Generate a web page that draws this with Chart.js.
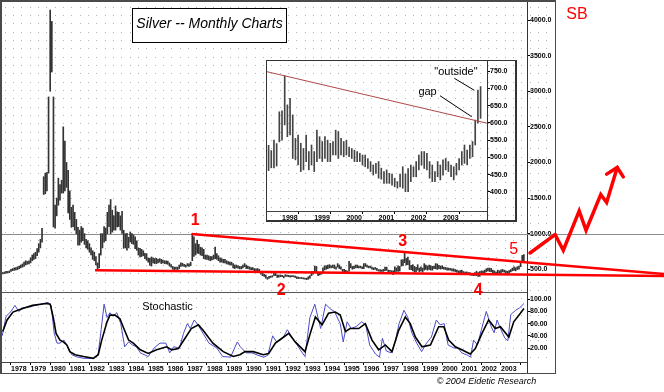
<!DOCTYPE html>
<html>
<head>
<meta charset="utf-8">
<script src="https://cdn.jsdelivr.net/npm/chart.js@4.4.1/dist/chart.umd.min.js"></script>
<style>
  body { margin: 0; background: #fff; }
  #wrap { position: relative; width: 664px; height: 392px; overflow: hidden; }
  canvas { position: absolute; }
  #stoch { left: 0; top: 292px; }
  #price { left: 0; top: 0; }
  #inset { left: 266px; top: 60px; }
</style>
</head>
<body>
<div id="wrap">
  <canvas id="stoch" width="556" height="100"></canvas>
  <canvas id="price" width="664" height="300"></canvas>
  <canvas id="inset" width="252" height="163"></canvas>
</div>
<script>
// Silver, monthly high/low in cents, Jul 1977 .. Mar 2004
const firstMonth = 1977.5;
const lows = [
  438, 435, 440, 445, 448, 452,                                  // 1977 Jul-Dec
  470, 480, 485, 490, 495, 510, 520, 530, 540, 560, 570, 575,    // 1978
  590, 620, 640, 650, 690, 740, 800, 880, 1550, 1560, 1600, 1850, // 1979
  3000, 3270, 1095, 1076, 1250, 1400, 1470, 1570, 1570, 1600, 1650, 1290, // 1980
  1200, 1090, 1100, 1050, 1000, 840, 840, 880, 900, 850, 800, 780, // 1981
  740, 700, 640, 620, 560, 500, 520, 700, 800, 880, 900, 1000,   // 1982
  1100, 1000, 1024, 1050, 1050, 1095, 1100, 1050, 1002, 795, 800, 767, // 1983
  800, 884, 860, 850, 790, 767, 700, 673, 680, 690, 650, 626,    // 1984
  600, 556, 545, 590, 580, 580, 590, 600, 580, 590, 580, 575,    // 1985
  570, 545, 530, 500, 495, 500, 495, 510, 540, 545, 540, 530,    // 1986
  545, 540, 550, 620, 680, 700, 725, 720, 700, 690, 650, 640,    // 1987
  640, 630, 620, 630, 640, 650, 640, 620, 600, 600, 590, 590,    // 1988
  575, 570, 560, 560, 520, 510, 520, 515, 505, 505, 520, 535,    // 1989
  510, 510, 500, 495, 495, 480, 475, 480, 470, 430, 410, 400,    // 1990
  375, 360, 370, 385, 390, 410, 410, 385, 390, 395, 395, 380,    // 1991
  400, 400, 395, 390, 395, 395, 385, 370, 370, 370, 370, 365,    // 1992
  360, 355, 360, 375, 410, 430, 460, 450, 410, 420, 430, 450,    // 1993
  490, 500, 510, 520, 520, 525, 510, 500, 530, 510, 500, 470,    // 1994
  460, 455, 445, 475, 520, 500, 510, 520, 520, 520, 520, 510,    // 1995
  510, 540, 530, 520, 520, 500, 495, 500, 485, 475, 470, 470,    // 1996
  470, 480, 485, 465, 470, 465, 425, 462, 470, 470, 475, 545,    // 1997
  550, 594, 560, 565, 497, 493, 478, 459, 464, 488, 464, 478,    // 1998
  459, 488, 497, 488, 497, 488, 488, 507, 507, 497, 507, 502,    // 1999
  507, 502, 497, 488, 488, 488, 478, 473, 468, 459, 449, 454,    // 2000
  440, 437, 425, 425, 425, 420, 415, 411, 415, 411, 401, 401,    // 2001
  430, 444, 444, 464, 478, 468, 464, 440, 430, 430, 444, 435,    // 2002
  449, 464, 459, 444, 435, 449, 464, 478, 483, 478, 497, 502,    // 2003
  536, 599, 613                                                  // 2004 Jan-Mar
];
const highs = [
  458, 455, 462, 470, 470, 478,
  500, 510, 520, 525, 535, 545, 560, 575, 600, 620, 610, 620,
  660, 700, 720, 740, 790, 860, 920, 1076, 1800, 1850, 1860, 2920,
  4140, 3980, 2920, 1400, 1500, 1780, 1690, 1750, 2500, 2300, 2000, 1890,
  1600, 1370, 1400, 1300, 1200, 1090, 1050, 1100, 1080, 1000, 920, 900,
  860, 800, 760, 740, 680, 590, 720, 1000, 1000, 1100, 1080, 1300,
  1400, 1480, 1330, 1250, 1390, 1305, 1300, 1250, 1315, 1048, 1000, 1006,
  950, 1024, 1000, 980, 954, 900, 800, 795, 780, 760, 725, 720,
  660, 655, 673, 660, 650, 655, 640, 650, 640, 630, 620, 620,
  615, 590, 565, 540, 530, 530, 530, 560, 590, 585, 570, 560,
  580, 575, 600, 1002, 954, 860, 908, 850, 810, 800, 780, 700,
  700, 690, 680, 680, 700, 813, 720, 690, 660, 650, 640, 640,
  620, 610, 600, 600, 580, 560, 560, 550, 540, 540, 560, 580,
  560, 545, 535, 525, 525, 510, 505, 510, 500, 470, 440, 430,
  420, 385, 400, 405, 410, 450, 445, 420, 420, 420, 415, 405,
  425, 420, 415, 410, 410, 410, 405, 395, 390, 385, 385, 380,
  375, 375, 395, 410, 470, 470, 545, 540, 460, 445, 460, 520,
  550, 550, 560, 565, 550, 560, 560, 535, 580, 560, 535, 500,
  500, 485, 475, 610, 580, 540, 545, 560, 560, 545, 545, 535,
  580, 580, 560, 545, 545, 530, 520, 525, 515, 495, 495, 490,
  500, 530, 530, 490, 485, 480, 478, 535, 520, 550, 540, 632,
  635, 736, 652, 671, 623, 555, 565, 541, 526, 565, 517, 536,
  517, 579, 560, 546, 560, 550, 541, 546, 579, 575, 555, 546,
  550, 530, 526, 521, 517, 512, 507, 507, 497, 488, 478, 483,
  488, 469, 459, 464, 454, 452, 440, 430, 452, 473, 452, 468,
  478, 473, 488, 507, 517, 517, 512, 488, 478, 459, 488, 478,
  493, 497, 488, 478, 473, 483, 497, 517, 536, 521, 536, 546,
  608, 695, 705
];
const insetFrom = 240; // Jul 1997

// stochastic: [year, value]
const stochD = [
  [1977.58, 47], [1977.8, 66], [1978.1, 79], [1978.35, 82], [1978.6, 85], [1979.1, 90], [1979.8, 93],
  [1980.0, 92], [1980.15, 71], [1980.3, 44], [1980.5, 33], [1980.67, 30], [1980.85, 25], [1981.0, 14],
  [1981.27, 9], [1981.7, 6], [1982.2, 3], [1982.45, 9], [1982.63, 33], [1982.9, 63], [1983.05, 74],
  [1983.3, 74], [1983.56, 68], [1983.72, 55], [1984.0, 33], [1984.24, 28], [1984.6, 17], [1985.0, 11],
  [1985.43, 17], [1985.94, 22], [1986.2, 17], [1986.54, 19], [1986.88, 36], [1987.2, 52], [1987.56, 58],
  [1987.8, 49], [1988.3, 28], [1988.83, 14], [1989.34, 6], [1989.68, 9], [1989.94, 14], [1990.36, 14],
  [1990.87, 9], [1991.15, 11], [1991.49, 28], [1991.83, 36], [1992.17, 44], [1992.5, 30], [1993.0, 14],
  [1993.27, 44], [1993.53, 71], [1993.87, 58], [1994.2, 77], [1994.55, 79], [1994.8, 74], [1995.06, 47],
  [1995.3, 52], [1995.74, 52], [1996.08, 60], [1996.42, 33], [1996.76, 17], [1997.1, 25], [1997.44, 14],
  [1997.78, 49], [1998.12, 71], [1998.37, 60], [1998.63, 38], [1998.97, 22], [1999.4, 25], [1999.82, 55],
  [2000.08, 55], [2000.33, 33], [2000.67, 22], [2001.0, 17], [2001.43, 10], [2001.69, 19], [2002.03, 44],
  [2002.37, 66], [2002.71, 52], [2002.97, 55], [2003.4, 38], [2003.65, 63], [2003.99, 77], [2004.17, 85]
];
const stochK = [
  [1977.55, 40], [1977.75, 72], [1978.0, 80], [1978.2, 90], [1978.4, 80], [1978.6, 86], [1979.0, 88],
  [1979.5, 92], [1979.9, 95], [1980.05, 90], [1980.2, 45], [1980.35, 28], [1980.5, 28], [1980.7, 33],
  [1980.9, 22], [1981.1, 9], [1981.3, 6], [1981.7, 3], [1982.2, 3], [1982.45, 10], [1982.6, 50],
  [1982.75, 92], [1982.9, 70], [1983.05, 78], [1983.2, 72], [1983.4, 78], [1983.6, 60], [1983.8, 22],
  [1984.0, 30], [1984.2, 25], [1984.4, 22], [1984.6, 12], [1985.0, 6], [1985.3, 20], [1985.6, 28],
  [1985.9, 28], [1986.1, 12], [1986.3, 22], [1986.6, 20], [1986.8, 44], [1987.0, 60], [1987.15, 52],
  [1987.35, 66], [1987.5, 60], [1987.8, 44], [1988.1, 28], [1988.5, 20], [1988.8, 6], [1989.2, 5],
  [1989.55, 30], [1989.7, 22], [1990.0, 12], [1990.3, 12], [1990.6, 8], [1990.9, 5], [1991.1, 8],
  [1991.35, 40], [1991.55, 30], [1991.9, 38], [1992.1, 50], [1992.3, 40], [1992.6, 25], [1992.8, 15],
  [1993.0, 6], [1993.25, 70], [1993.5, 92], [1993.8, 52], [1994.05, 92], [1994.3, 84], [1994.5, 80],
  [1994.8, 60], [1994.95, 30], [1995.15, 63], [1995.35, 52], [1995.6, 55], [1995.9, 63], [1996.1, 58],
  [1996.3, 25], [1996.6, 10], [1996.8, 5], [1996.95, 36], [1997.15, 15], [1997.4, 12], [1997.6, 30],
  [1997.8, 60], [1998.05, 82], [1998.25, 70], [1998.45, 45], [1998.7, 28], [1998.95, 14], [1999.2, 28],
  [1999.45, 38], [1999.7, 66], [1999.9, 58], [2000.1, 60], [2000.3, 25], [2000.6, 20], [2000.8, 20],
  [2001.0, 12], [2001.3, 8], [2001.45, 5], [2001.6, 33], [2001.8, 25], [2002.0, 50], [2002.25, 80],
  [2002.5, 55], [2002.65, 45], [2002.8, 66], [2003.0, 50], [2003.2, 36], [2003.35, 32], [2003.5, 75],
  [2003.75, 82], [2003.95, 86], [2004.17, 93]
];

// ticks
const priceTicks = [500, 1000, 1500, 2000, 2500, 3000, 3500, 4000];
const stochTicks = [20, 40, 60, 80, 100];
const yearTicks = [1978, 1979, 1980, 1981, 1982, 1983, 1984, 1985, 1986, 1987, 1988, 1989, 1990,
  1991, 1992, 1993, 1994, 1995, 1996, 1997, 1998, 1999, 2000, 2001, 2002, 2003, 2004];
const insetTicks = [400, 450, 500, 550, 600, 650, 700, 750];
const insetYears = [1998, 1999, 2000, 2001, 2002, 2003, 2004];

// drawn-in lines, [year, price]
const refLevel = 1000;
const topLine = [[1987.22, 996], [2011.32, 434]];
const baseLine = [[1982.29, 486], [2011.32, 406]];
const projection = [[2004.48, 729], [2005.76, 988], [2006.18, 767], [2006.99, 1320], [2007.34, 1048],
  [2008.09, 1550], [2008.39, 1438], [2008.93, 1930]];
const arrowHead = [[2008.39, 1836], [2008.93, 1930], [2009.24, 1798]];
const insetTrend = [[1997.534, 748], [2004.366, 599]];
const gapPointer = [[2002.907, 678.5], [2003.891, 617.8]];
const outsidePointer = [[2003.351, 728.9], [2003.972, 694.2]];

// labels [text, year, value]
const waveLabels = [['1', 1987.40, 1181], ['2', 1991.78, 198], ['3', 1997.99, 883], ['4', 2001.84, 202]];
const fifthLabel = ['5', 2003.65, 782];
const sbLabel = ['SB', 2006.88, 4070];
const insetLabels = [['gap', 2002.52, 688], ['"outside"', 2003.40, 748]];
const stochLabel = ['Stochastic', 1985.985, 87.4];

const X0 = 1977.541, X1 = 2004.327;
const RED = '#ff0000';
const TICK_FONT = { family: 'Liberation Sans', size: 7, weight: 'bold' };
Chart.defaults.font.family = 'Liberation Sans';

const xy = pts => pts.map(p => ({ x: p[0], y: p[1] }));
const bars = (from) => lows.slice(from).map((lo, k) => ({ x: firstMonth + (from + k) / 12, y: [lo, highs[from + k]] }));

function lattice(ctx, offX, offY, x0, y0, x1, y1) {
  ctx.save();
  ctx.fillStyle = '#b4b4b4';
  const step = 25 / 3;
  for (let py = 6.7; py < y1; py += step) {
    if (py < y0) continue;
    for (let px = 4.7; px < x1; px += step) {
      if (px < x0) continue;
      ctx.fillRect(Math.round(px) - offX, Math.round(py) - offY, 1, 1);
    }
  }
  ctx.restore();
}

function label(chart, item, font, color) {
  const ctx = chart.ctx;
  ctx.save();
  ctx.font = font;
  ctx.fillStyle = color;
  ctx.textAlign = 'center';
  ctx.textBaseline = 'middle';
  ctx.fillText(item[0], chart.scales.x.getPixelForValue(item[1]), chart.scales.y.getPixelForValue(item[2]));
  ctx.restore();
}

const lineSet = (pts, color, width, extra) => Object.assign({
  type: 'line', data: xy(pts), borderColor: color, borderWidth: width,
  pointRadius: 0, tension: 0, clip: false, borderCapStyle: 'round', borderJoinStyle: 'miter'
}, extra || {});

function rightAxis(min, max, tickList, fmt, width) {
  return {
    position: 'right', min: min, max: max,
    afterBuildTicks: s => { s.ticks = tickList.map(v => ({ value: v })); },
    afterFit: s => { s.width = width; s.paddingTop = 0; s.paddingBottom = 0; },
    ticks: { callback: v => v.toFixed(fmt), font: TICK_FONT, color: '#000', padding: 0 },
    grid: { drawOnChartArea: false, tickLength: 3, color: '#000' },
    border: { color: '#333' }
  };
}

function yearAxis(min, max, tickList, height) {
  return {
    type: 'linear', min: min, max: max, offset: false,
    afterBuildTicks: s => { s.ticks = tickList.map(v => ({ value: v })); },
    afterFit: s => { s.height = height; s.paddingLeft = 0; s.paddingRight = 0; },
    ticks: { callback: v => (v === 2004 ? '' : String(v)), font: TICK_FONT, color: '#000', padding: 0,
      align: 'start', autoSkip: false, maxRotation: 0 },
    grid: { drawOnChartArea: false, tickLength: 3, color: '#000' },
    border: { color: '#444' }
  };
}

// ---- main price panel ----
const pricePanel = {
  id: 'pricePanel',
  beforeDraw(chart) {
    lattice(chart.ctx, 0, 0, 2, 2, 556, 292);
  },
  beforeDatasetsDraw(chart) {
    const ctx = chart.ctx;
    const y = Math.round(chart.scales.y.getPixelForValue(refLevel)) + 0.5;
    ctx.save();
    ctx.strokeStyle = '#8c8c8c';
    ctx.lineWidth = 1;
    ctx.beginPath();
    ctx.moveTo(chart.chartArea.left, y);
    ctx.lineTo(chart.width, y);
    ctx.stroke();
    ctx.restore();
  },
  afterDraw(chart) {
    const ctx = chart.ctx;
    ctx.save();
    ctx.fillStyle = '#4a4a4a';
    ctx.fillRect(0, 0, 556, 2);
    ctx.fillRect(0, 0, 2, 292);
    ctx.fillRect(555, 0, 1, 292);
    // title box
    ctx.fillStyle = '#fff';
    ctx.fillRect(133, 9, 153, 33);
    ctx.strokeStyle = '#000';
    ctx.lineWidth = 1;
    ctx.strokeRect(132.5, 8.5, 154, 34);
    ctx.fillStyle = '#000';
    ctx.font = 'italic 14px "Liberation Sans"';
    ctx.textAlign = 'center';
    ctx.textBaseline = 'middle';
    ctx.fillText('Silver -- Monthly Charts', 209.5, 24);
    ctx.restore();
    waveLabels.forEach(w => label(chart, w, 'bold 16px "Liberation Sans"', RED));
    label(chart, fifthLabel, '16px "Liberation Sans"', RED);
    label(chart, sbLabel, '16px "Liberation Sans"', RED);
  }
};

new Chart(document.getElementById('price'), {
  type: 'bar',
  data: {
    datasets: [
      lineSet(projection, RED, 3.5),
      lineSet(arrowHead, RED, 3.5),
      lineSet(topLine, RED, 2.5, { borderCapStyle: 'butt' }),
      lineSet(baseLine, RED, 2.5, { borderCapStyle: 'butt' }),
      { type: 'bar', data: bars(0), backgroundColor: '#333', barThickness: 1, grouped: false }
    ]
  },
  options: {
    responsive: false, animation: false, events: [],
    layout: { padding: { left: 2, right: 108, top: 0, bottom: 8 } },
    plugins: { legend: { display: false }, tooltip: { enabled: false } },
    scales: {
      x: { type: 'linear', display: false, bounds: 'data', offset: false,
        afterDataLimits: s => { s.min = X0; s.max = X1; } },
      y: rightAxis(181, 4281, priceTicks, 1, 29)
    }
  },
  plugins: [pricePanel]
});

// ---- stochastic panel ----
const stochPanel = {
  id: 'stochPanel',
  beforeDraw(chart) {
    lattice(chart.ctx, 0, 292, 2, 292, 556, 362);
  },
  afterDraw(chart) {
    const ctx = chart.ctx;
    const ca = chart.chartArea;
    ctx.save();
    ctx.fillStyle = '#4a4a4a';
    ctx.fillRect(0, 0, 2, 81);
    ctx.fillRect(555, 0, 1, 81);
    ctx.fillRect(0, 81, 556, 1);
    ctx.fillStyle = '#555';
    ctx.fillRect(2, 0, Math.round(ca.right) - 2, 1);
    ctx.fillStyle = '#333';
    ctx.fillRect(Math.round(ca.right), Math.round(ca.bottom), 1, 81 - Math.round(ca.bottom));
    ctx.fillStyle = '#000';
    ctx.font = 'italic 9px "Liberation Sans"';
    ctx.textAlign = 'center';
    ctx.textBaseline = 'middle';
    ctx.fillText('\u00a9 2004 Eidetic Research', 486.5, 89);
    ctx.restore();
    label(chart, stochLabel, '11px "Liberation Sans"', '#000');
  }
};

new Chart(document.getElementById('stoch'), {
  type: 'line',
  data: {
    datasets: [
      { data: xy(stochD), borderColor: '#000', borderWidth: 1.6, pointRadius: 0, tension: 0 },
      { data: xy(stochK), borderColor: '#4a4ac8', borderWidth: 1, pointRadius: 0, tension: 0 }
    ]
  },
  options: {
    responsive: false, animation: false, events: [],
    layout: { padding: { left: 2, right: 0, top: 0, bottom: 19 } },
    plugins: { legend: { display: false }, tooltip: { enabled: false } },
    scales: {
      x: yearAxis(X0, X1, yearTicks, 11),
      y: rightAxis(-3, 112, stochTicks, 2, 29)
    }
  },
  plugins: [stochPanel]
});

// ---- inset: 1997-2004 close-up ----
const insetPanel = {
  id: 'insetPanel',
  beforeDraw(chart) {
    const ctx = chart.ctx;
    ctx.save();
    ctx.fillStyle = '#fff';
    ctx.fillRect(0, 0, chart.width, chart.height);
    ctx.restore();
    lattice(ctx, 266, 60, 268, 62, 516, 220);
  },
  afterDraw(chart) {
    const ctx = chart.ctx;
    const ca = chart.chartArea;
    ctx.save();
    ctx.fillStyle = '#333';
    ctx.fillRect(0, 0, 250, 1);
    ctx.fillRect(0, 0, 1, 162);
    ctx.fillRect(249, 0, 2, 162);
    ctx.fillRect(0, 160, 251, 2);
    ctx.fillRect(Math.round(ca.right), Math.round(ca.bottom), 1, 160 - Math.round(ca.bottom));
    ctx.restore();
    insetLabels.forEach(l => label(chart, l, '11px "Liberation Sans"', '#000'));
  }
};

new Chart(document.getElementById('inset'), {
  type: 'bar',
  data: {
    datasets: [
      lineSet(gapPointer, '#000', 1, { clip: undefined, borderCapStyle: 'butt' }),
      lineSet(outsidePointer, '#000', 1, { clip: undefined, borderCapStyle: 'butt' }),
      lineSet(insetTrend, '#b04848', 1, { clip: undefined, borderCapStyle: 'butt' }),
      { type: 'bar', data: bars(insetFrom), backgroundColor: '#444', barThickness: 1, grouped: false }
    ]
  },
  options: {
    responsive: false, animation: false, events: [],
    layout: { padding: { left: 1, right: 2, top: 1, bottom: 2 } },
    plugins: { legend: { display: false }, tooltip: { enabled: false } },
    scales: {
      x: yearAxis(1997.534, 2004.366, insetYears, 10),
      y: rightAxis(345, 779, insetTicks, 1, 29)
    }
  },
  plugins: [insetPanel]
});
</script>
</body>
</html>
